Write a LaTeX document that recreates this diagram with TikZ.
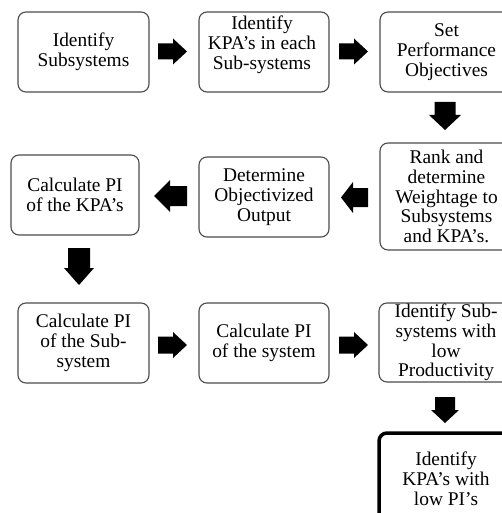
\documentclass[tikz,border=0pt]{standalone}
\usepackage{fontspec}
\setmainfont{Liberation Serif}
\usetikzlibrary{calc}
\tikzset{
  box/.style={draw=black!70, line width=1.1pt, rounded corners=8pt, align=center,
    inner sep=0pt, font=\fontsize{19.4}{19.8}\selectfont},
  finalbox/.style={box, draw=black, line width=3.5pt},
  boxtext/.style={align=center, inner sep=0pt, font=\fontsize{19.4}{19.8}\selectfont}
}
% \barrow{name}{center}{rotation}{length}{total width}{shaft width}{head length}
\newcommand\barrow[7]{%
  \coordinate (#1) at #2;
  \begin{scope}[shift={(#1)}, rotate=#3]
    \fill[black] (-#4/2,-#6/2) -- (#4/2-#7,-#6/2) -- (#4/2-#7,-#5/2) -- (#4/2,0)
      -- (#4/2-#7,#5/2) -- (#4/2-#7,#6/2) -- (-#4/2,#6/2) -- cycle;
  \end{scope}}
\begin{document}
\begin{tikzpicture}[x=1pt,y=-1pt]
\useasboundingbox (0,0) rectangle (502,513);
\clip (0,0) rectangle (502,513);
\fill[white] (0,0) rectangle (502,513);
% row 1
\node[box, minimum width=131pt, minimum height=80pt] (b1) at (83.5,52) {Identify\\Subsystems};
\node[box, minimum width=130pt, minimum height=80pt] (b2) at (264,52) {};
\node[boxtext] (b2t) at (262,44.5) {Identify\\KPA’s in each\\Sub-systems};
\node[box, minimum width=133pt, minimum height=80pt] (b3) at (446.5,52) {Set\\Performance\\Objectives};
% row 2
\node[box, minimum width=133pt, minimum height=107pt] (b4) at (446.5,196.5) {Rank and\\determine\\Weightage to\\Subsystems\\and KPA’s.};
\node[box, minimum width=130pt, minimum height=80pt] (b5) at (264,197) {Determine\\Objectivized\\Output};
\node[box, minimum width=128pt, minimum height=80pt] (b6) at (75,195) {Calculate PI\\of the KPA’s};
% row 3
\node[box, minimum width=131pt, minimum height=80pt] (b7) at (83.5,343) {Calculate PI\\of the Sub-\\system};
\node[box, minimum width=130pt, minimum height=80pt] (b8) at (264,343) {Calculate PI\\of the system};
\node[box, minimum width=134pt, minimum height=79pt] (b9) at (446,342.5) {Identify Sub-\\systems with\\low\\Productivity};
% final
\node[finalbox, minimum width=134pt, minimum height=92pt] (b10) at (446,479) {Identify\\KPA’s with\\low PI’s};
% block arrows
\barrow{a1}{(172.5,51.5)}{0}{29}{26}{16}{14}
\barrow{a2}{(353.5,51.5)}{0}{29}{26}{16}{14}
\barrow{a3}{(445,116)}{-90}{28}{32}{21}{15}
\barrow{a4}{(354.5,197.5)}{180}{27}{31}{19}{12}
\barrow{a5}{(170.5,196)}{180}{33}{32}{20}{16}
\barrow{a6}{(79,266.5)}{-90}{37}{30}{22}{17}
\barrow{a7}{(172.5,345)}{0}{29}{26}{17}{14}
\barrow{a8}{(353.5,345)}{0}{29}{26}{17}{14}
\barrow{a9}{(445,410)}{-90}{26}{28}{20}{13}
\end{tikzpicture}
\end{document}
